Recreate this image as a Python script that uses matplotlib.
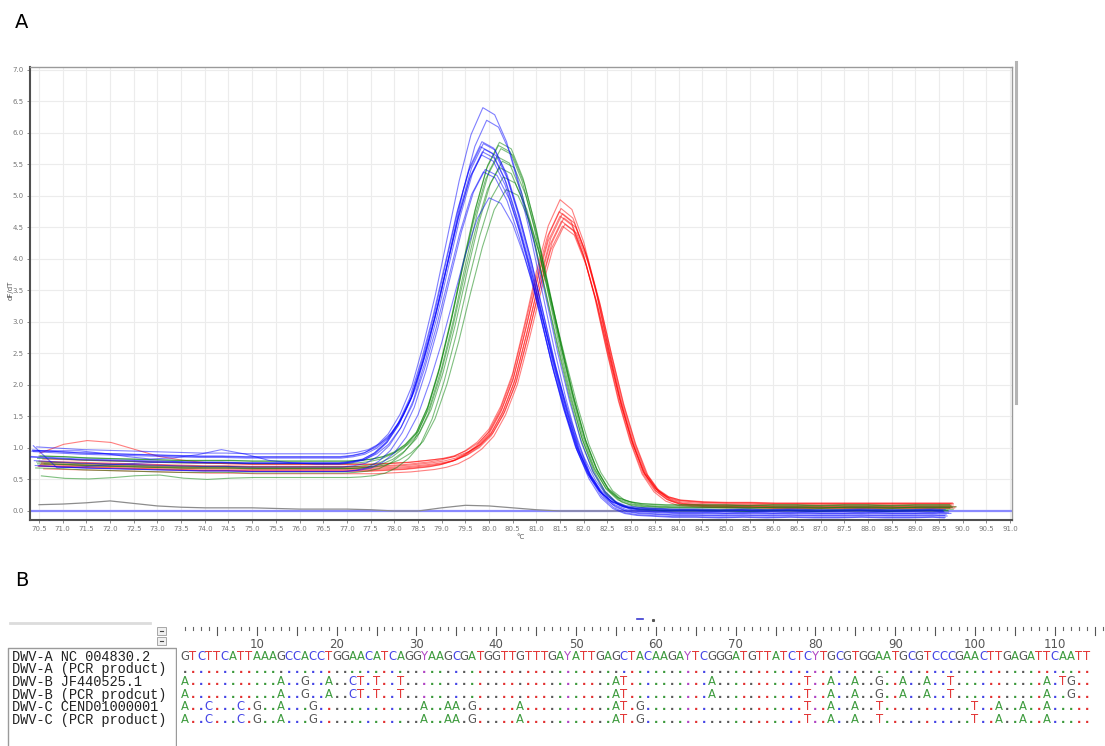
import numpy as np
import matplotlib
matplotlib.use("Agg")
import matplotlib.pyplot as plt
from matplotlib.lines import Line2D
from matplotlib.patches import Rectangle

# ---------------- melt curve data (dF/dT vs temperature) ----------------
# sample temperatures: coarse on the baseline, finer across the peaks
temps = np.concatenate([np.arange(70.5, 77.01, 0.5),
                        np.arange(77.25, 84.01, 0.25),
                        np.arange(84.5, 89.51, 0.5), [89.75]])

blue_shape = [0.84, 0.82, 0.80, 0.79, 0.78, 0.77, 0.76, 0.75, 0.75, 0.74, 0.74, 0.74, 0.74, 0.74,
              0.76, 0.80, 0.90, 1.07, 1.35, 1.75, 2.35, 3.05, 3.85, 4.65, 5.30, 5.68, 5.58, 5.20,
              4.60, 3.90, 3.10, 2.30, 1.60, 1.00, 0.58, 0.30, 0.14, 0.06, 0.03, 0.02, 0.01, 0.00,
              0.00, -0.01, 0.00, -0.01, 0.00, -0.01, -0.01, 0.00, -0.01, -0.01, 0.00, -0.01]
green_shape = [0.80, 0.79, 0.77, 0.76, 0.75, 0.74, 0.73, 0.73, 0.73, 0.72, 0.72, 0.72, 0.72, 0.72,
               0.73, 0.75, 0.79, 0.87, 1.00, 1.20, 1.60, 2.20, 2.95, 3.80, 4.60, 5.25, 5.60, 5.50,
               5.05, 4.35, 3.50, 2.65, 1.85, 1.15, 0.65, 0.32, 0.15, 0.08, 0.05, 0.04, 0.03, 0.03,
               0.03, 0.03, 0.02, 0.03, 0.03, 0.02, 0.03, 0.03, 0.02, 0.03, 0.03, 0.03]
red_shape = [0.76, 0.75, 0.74, 0.73, 0.72, 0.71, 0.70, 0.69, 0.69, 0.68, 0.68, 0.68, 0.68, 0.68,
             0.68, 0.68, 0.69, 0.70, 0.71, 0.73, 0.75, 0.78, 0.83, 0.92, 1.05, 1.25, 1.60, 2.10,
             2.85, 3.65, 4.35, 4.75, 4.60, 4.10, 3.40, 2.55, 1.75, 1.10, 0.60, 0.33, 0.19, 0.13,
             0.10, 0.09, 0.09, 0.08, 0.08, 0.08, 0.08, 0.08, 0.08, 0.08, 0.08, 0.08]

# how strongly a curve's own baseline / tail offset applies at each temperature
blue_left_w = [1] * 16 + [0.9, 0.75, 0.55, 0.35, 0.2, 0.1] + [0] * 32
blue_right_w = [0] * 32 + [0.2, 0.45, 0.7, 0.9] + [1] * 18
green_left_w = [1] * 17 + [0.9, 0.75, 0.55, 0.35, 0.2, 0.1] + [0] * 31
green_right_w = [0] * 33 + [0.2, 0.45, 0.7, 0.9] + [1] * 17
red_left_w = [1] * 21 + [0.9, 0.75, 0.55, 0.35, 0.2, 0.1] + [0] * 27
red_right_w = [0] * 38 + [0.3, 0.6, 0.85] + [1] * 13

# per-sample peak height, melting temperature, baseline and tail offsets
blue_peak = [6.40, 6.20, 5.86, 5.83, 5.78, 5.74, 5.70, 5.65, 5.42, 5.38, 4.97]
blue_tm = [79.87, 79.95, 79.85, 79.88, 79.82, 79.90, 79.86, 79.84, 79.92, 79.88, 80.00]
blue_base = [0.02, 0.10, -0.02, 0.08, 0.00, -0.05, 0.12, 0.03, -0.08, 0.06, -0.02]
blue_tail = [-0.06, -0.02, 0.00, -0.09, 0.02, -0.04, -0.10, 0.01, -0.07, 0.03, -0.03]

green_peak = [5.85, 5.80, 5.75, 5.62, 5.55, 5.45, 5.30, 5.10]
green_tm = [80.22, 80.20, 80.25, 80.18, 80.28, 80.22, 80.30, 80.36]
green_base = [0.00, -0.05, 0.05, -0.12, 0.08, -0.03, -0.15, 0.02]
green_tail = [0.02, -0.03, 0.06, -0.02, 0.03, 0.07, 0.00, 0.04]

red_peak = [4.94, 4.80, 4.75, 4.72, 4.68, 4.65, 4.60, 4.55, 4.52]
red_tm = [81.50, 81.52, 81.48, 81.55, 81.50, 81.58, 81.53, 81.60, 81.55]
red_base = [0.00, 0.05, -0.05, 0.02, -0.03, 0.08, 0.00, -0.06, 0.03]
red_tail = [0.03, -0.02, -0.04, 0.04, 0.00, -0.03, 0.05, -0.01, 0.02]

# individual baseline bumps (offsets on the 70.5-77.0 points)
blue_quirks = {2: [0.10, 0.13, 0.15, 0.12, 0.08, 0.05, 0.08, 0.14, 0.22, 0.16, 0.06, 0.02, 0.0, 0.0],
               9: [0.18, -0.15, -0.12, -0.08, -0.05, -0.02, 0.0, 0.0, 0.0, 0.0, 0.0, 0.0, 0.0, 0.0]}
green_quirks = {6: [-0.05, -0.08, -0.07, -0.04, 0.0, 0.02, -0.02, -0.04, -0.02, 0.0, 0.0, 0.0, 0.0, 0.0]}
red_quirks = {1: [0.1, 0.25, 0.32, 0.3, 0.2, 0.1, 0.05, 0.02, 0.0, 0.0, 0.0, 0.0, 0.0, 0.0]}

# no-template control
gray_temps = np.arange(70.5, 89.51, 0.5)
gray_vals = [0.10, 0.11, 0.13, 0.16, 0.12, 0.08, 0.06, 0.05, 0.05, 0.05, 0.04, 0.03, 0.03, 0.03,
             0.02, 0.00, 0.00, 0.05, 0.09, 0.08, 0.05, 0.02, 0.00, 0.00, 0.00, 0.00, 0.00, 0.00,
             0.00, 0.00, 0.00, 0.00, 0.00, 0.00, 0.00, 0.00, 0.00, 0.00, 0.00]

# ---------------- alignment data ----------------
seq_names = ["DWV-A NC 004830.2", "DWV-A (PCR product)", "DWV-B JF440525.1",
             "DWV-B (PCR prodcut)", "DWV-C CEND01000001", "DWV-C (PCR product)"]
consensus = ("GTCTTCATTAAAGCCACCTGGAACATCAGGYAAGCGATGGTTGTTTGAYATTGAGCTACAAGAYTCGGGA"
             "TGTTATCTCYTGCGTGGAATGCGTCCCGAACTTGAGATTCAATT")
# differences from the consensus, 1-based positions
row_diffs = [
    {},
    {1: "A", 13: "A", 16: "G", 19: "A", 22: "C", 23: "T", 25: "T", 28: "T", 55: "A", 56: "T",
     67: "A", 79: "T", 82: "A", 85: "A", 88: "G", 91: "A", 94: "A", 97: "T", 109: "A", 111: "T", 112: "G"},
    {1: "A", 13: "A", 16: "G", 19: "A", 22: "C", 23: "T", 25: "T", 28: "T", 55: "A", 56: "T",
     67: "A", 79: "T", 82: "A", 85: "A", 88: "G", 91: "A", 94: "A", 97: "T", 109: "A", 112: "G"},
    {1: "A", 4: "C", 8: "C", 10: "G", 13: "A", 17: "G", 31: "A", 34: "A", 35: "A", 37: "G", 43: "A",
     55: "A", 56: "T", 58: "G", 79: "T", 82: "A", 85: "A", 88: "T", 100: "T", 103: "A", 106: "A", 109: "A"},
    {1: "A", 4: "C", 8: "C", 10: "G", 13: "A", 17: "G", 31: "A", 34: "A", 35: "A", 37: "G", 43: "A",
     55: "A", 56: "T", 58: "G", 79: "T", 82: "A", 85: "A", 88: "T", 100: "T", 103: "A", 106: "A", 109: "A"},
]
ruler_labels = list(range(10, 111, 10))
base_colors = {"A": "#3c9a3c", "C": "#4646e6", "G": "#5a5a5a", "T": "#e23232", "Y": "#b044c4"}

W, H = 1105, 746
fig = plt.figure(figsize=(W / 100, H / 100), dpi=100)
fig.patch.set_facecolor("white")

# ---------------- panel A ----------------
ax = fig.add_axes([30 / W, 1 - 520 / H, (1012 - 30) / W, (520 - 66.7) / H])
ax.set_xlim(70.31, 91.04)
ax.set_ylim(-0.143, 7.05)
xt = np.arange(70.5, 91.01, 0.5)
ax.set_xticks(xt)
ax.set_xticklabels([f"{v:.1f}" for v in xt])
yt = np.arange(0, 7.01, 0.5)
ax.set_yticks(yt)
ax.set_yticklabels([f"{v:.1f}" for v in yt])
ax.tick_params(labelsize=5, colors="#777777", length=2.5, width=0.6, pad=2)
ax.grid(color="#ececec", lw=0.8)
ax.set_axisbelow(True)
for side in ("left", "bottom"):
    ax.spines[side].set_color("#505050")
    ax.spines[side].set_linewidth(1.5)
for side in ("top", "right"):
    ax.spines[side].set_color("#9a9a9a")
    ax.spines[side].set_linewidth(1.0)

ax.set_ylabel("dF/dT", fontsize=5, color="#555555")
ax.yaxis.set_label_coords(-0.017, 0.507)
ax.set_xlabel("°C", fontsize=5, color="#555555")
ax.xaxis.set_label_coords(0.499, -0.03)

ax.axhline(0, color="#8a8aff", lw=1.6, zorder=1)
ax.plot(gray_temps, gray_vals, color="#8c8c8c", lw=0.9, zorder=2)

groups = [
    ("#ff0000", red_shape, red_peak, red_tm, red_base, red_tail, red_left_w, red_right_w, red_quirks),
    ("#008000", green_shape, green_peak, green_tm, green_base, green_tail, green_left_w, green_right_w, green_quirks),
    ("#0000ff", blue_shape, blue_peak, blue_tm, blue_base, blue_tail, blue_left_w, blue_right_w, blue_quirks),
]
for color, shape, peaks, tms, bases, tails, lw_, rw_, quirks in groups:
    shape = np.array(shape)
    ref_tm = temps[np.argmax(shape)]
    for k, (pk, tm, b, t) in enumerate(zip(peaks, tms, bases, tails)):
        y = shape * pk / shape.max() + b * np.array(lw_) + t * np.array(rw_)
        if k in quirks:
            y[:14] += np.array(quirks[k])
        ax.plot(temps + (tm - ref_tm), y, color=color, lw=0.8, alpha=0.5, zorder=3)

# scroll bar at the right of the chart window
fig.add_artist(Line2D([1016 / W] * 2, [1 - 62 / H, 1 - 403 / H], color="#b4b4b4", lw=2.2))

fig.text(15 / W, 1 - 22 / H, "A", fontsize=14, va="center", ha="left")
fig.text(15 / W, 1 - 580 / H, "B", fontsize=14, va="center", ha="left")

# ---------------- panel B: alignment ----------------
col_w = 7.98
row_h = 12.6
top_px, bot_px = 612, 746
y_top = (top_px - 655) / row_h
y_bot = (bot_px - 655) / row_h
axb = fig.add_axes([177 / W, 0, (W - 177) / W, (bot_px - top_px) / H])
axb.set_xlim(0, (W - 177) / col_w)
axb.set_ylim(y_bot, y_top)
axb.axis("off")

# ruler
n_cols = 116
for i in range(1, n_cols + 1):
    if i % 5 == 0:
        axb.plot([i, i], [-2.25, -1.6], color="#555555", lw=0.8)
    else:
        axb.plot([i, i], [-2.25, -2.0], color="#666666", lw=0.8)
for lab in ruler_labels:
    axb.text(lab, -0.8, str(lab), ha="center", va="center", fontsize=8.5, color="#555555")
axb.plot([57.6, 58.4], [-2.85, -2.85], color="#3a3ad0", lw=1.2)
axb.plot([59.6], [-2.8], marker="s", ms=1.2, color="#555555")

seq_font = dict(fontsize=8.4, family="DejaVu Sans", ha="center", va="baseline")
for i, ch in enumerate(consensus, start=1):
    axb.text(i, 0.4, ch, color=base_colors[ch], **seq_font)
for r, diffs in enumerate(row_diffs, start=1):
    for i, ch in enumerate(consensus, start=1):
        if i in diffs:
            axb.text(i, r + 0.4, diffs[i], color=base_colors[diffs[i]], **seq_font)
        else:
            axb.text(i, r + 0.4, ".", color=base_colors[ch], fontweight="bold", **seq_font)

# sequence name pane
axn = fig.add_axes([0, 0, 177 / W, (bot_px - top_px) / H])
axn.set_xlim(0, 177)
axn.set_ylim(y_bot, y_top)
axn.axis("off")
box_top = (648 - 655) / row_h
axn.plot([8, 8, 176, 176], [y_bot, box_top, box_top, y_bot], color="#9a9a9a", lw=1.0)
axn.plot([10, 150], [(623 - 655) / row_h] * 2, color="#dcdcdc", lw=2.0)
for yb in ((627 - 655) / row_h, (637 - 655) / row_h):
    axn.add_patch(Rectangle((157, yb), 9, 8 / row_h, facecolor="#f0f0f0", edgecolor="#9a9a9a", lw=0.6))
    axn.plot([160, 163], [yb + 4 / row_h] * 2, color="#444444", lw=0.8)
for r, name in enumerate(seq_names):
    axn.text(12, r + 0.15, name, fontsize=9.8, family="Liberation Mono", color="#222222",
             ha="left", va="center")

fig.savefig("out.png", dpi=100)
